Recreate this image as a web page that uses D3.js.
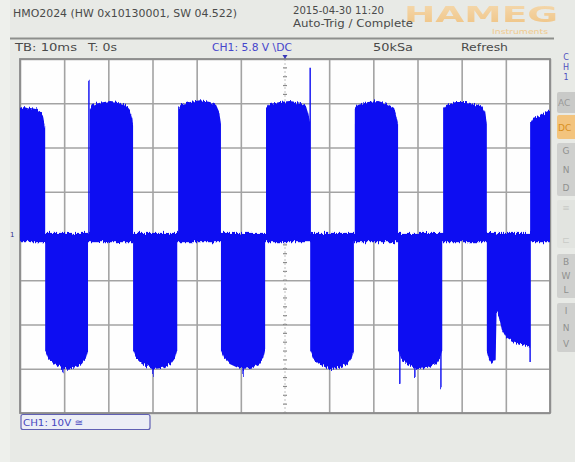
<!DOCTYPE html>
<html><head><meta charset="utf-8">
<script src="https://cdn.jsdelivr.net/npm/d3@7"></script>
<style>
html,body{margin:0;padding:0;background:#e8eae6;}
svg{display:block;font-family:"DejaVu Sans",sans-serif;}
</style></head><body>
<svg id="scope" width="575" height="462"></svg>
<script>
// Acquisition window: 12 divisions x 10 ms, 8 divisions x 10 V
const timeRange = [-60, 60];
const voltRange = [-40, 40];
const timeDivs = d3.range(-60, 61, 10);
const voltDivs = d3.range(-40, 41, 10);

// Envelope of each positive PWM burst: [time ms, volts]
const posBursts = [
  [[-60.0,28.9],[-59.1,29.4],[-57.7,28.9],[-56.4,28.7],[-55.5,28.2],[-54.8,27.1],[-54.3,24.6]],
  [[-44.2,28.7],[-43.7,29.6],[-41.9,30.1],[-39.6,30.5],[-37.8,30.3],[-36.0,29.6],[-35.1,28.5],[-34.6,26.7],[-34.4,24.9]],
  [[-24.2,28.9],[-23.5,29.8],[-21.5,30.3],[-19.2,30.7],[-17.0,30.3],[-15.6,29.6],[-14.9,28.0],[-14.5,25.3]],
  [[-4.3,28.9],[-3.6,29.8],[-1.1,30.3],[1.1,30.5],[3.4,30.1],[4.8,29.4],[5.2,28.0],[5.7,25.8]],
  [[15.8,28.7],[16.5,29.6],[18.8,30.3],[21.1,30.5],[23.3,29.8],[24.7,28.9],[25.1,27.6],[25.6,25.1]],
  [[35.8,28.7],[36.5,29.6],[38.7,30.3],[41.0,30.3],[43.2,29.8],[44.6,29.2],[45.3,28.0],[45.7,25.3]],
  [[55.5,25.5],[56.2,26.7],[57.7,27.1],[59.1,28.0],[60.0,28.5]]
];

// Envelope of each negative PWM burst: [time ms, volts]
const negBursts = [
  [[-54.3,-25.8],[-53.6,-27.6],[-52.3,-28.9],[-50.0,-30.1],[-47.8,-29.8],[-46.0,-28.9],[-45.1,-27.6],[-44.6,-25.8]],
  [[-34.4,-25.8],[-33.7,-27.6],[-32.4,-28.9],[-30.0,-30.1],[-27.6,-29.8],[-25.8,-28.9],[-24.9,-27.6],[-24.4,-25.8]],
  [[-14.5,-25.8],[-13.8,-27.6],[-12.5,-28.9],[-10.0,-30.1],[-7.6,-29.8],[-5.8,-28.9],[-4.9,-27.6],[-4.5,-25.8]],
  [[5.7,-25.8],[6.4,-27.6],[7.7,-28.9],[10.0,-30.1],[12.4,-29.8],[14.2,-28.9],[15.1,-27.6],[15.6,-25.8]],
  [[25.6,-25.8],[26.3,-27.6],[27.6,-28.9],[30.0,-30.1],[32.4,-29.8],[34.2,-28.9],[35.1,-27.6],[35.6,-25.8]],
  [[45.7,-26.2],[46.2,-28.0],[46.8,-28.9],[47.5,-28.0],[47.7,-28.4],[47.9,-17.2],[48.4,-18.1],[49.1,-21.2],[50.0,-22.8],[51.4,-23.7],[53.2,-24.4],[54.8,-24.9],[55.5,-25.3]]
];

// Residual noise band around 0 V between bursts
const baselineBand = [-1.4, 0.7];

// Isolated switching spikes: [time ms, peak volts]
const spikes = [
  [-44.4, 35.3], [5.7, 38.0],
  [-50.3, -31.0], [-29.9, -31.4], [-9.5, -31.4],
  [26.0, -33.4], [29.4, -32.1], [35.3, -34.4], [55.5, -28.5]
];

// Header and status texts
const headerInfo = "HMO2024 (HW 0x10130001, SW 04.522)";
const stampDate = "2015-04-30 11:20";
const stampTrig = "Auto-Trig / Complete";
const timebase = "TB: 10ms";
const trigTime = "T: 0s";
const chSetting = "CH1: 5.8 V \\DC";
const sampleRate = "50kSa";
const acqMode = "Refresh";
const chScale = "CH1: 10V \u2245";
const sideButtons = [
  {label: ["AC"], y0: 92, y1: 113, fill: "#c9cac8", color: "#9a9a9a"},
  {label: ["DC"], y0: 115, y1: 139, fill: "#f3c47e", color: "#d98f1d"},
  {label: ["G","N","D"], y0: 143, y1: 196, fill: "#cfd0ce", color: "#8f908e"},
  {label: ["\u2261","\u228f"], y0: 200, y1: 248, fill: "#e2e4e0", color: "#c9cbc7"},
  {label: ["B","W","L"], y0: 254, y1: 298, fill: "#cfd0ce", color: "#8f908e"},
  {label: ["I","N","V"], y0: 303, y1: 352, fill: "#cfd0ce", color: "#8f908e"}
];

const svg = d3.select("#scope");
const W = 575, H = 462;
const plot = {left: 20, right: 550, top: 59, bottom: 413};

const x = d3.scaleLinear().domain(timeRange).range([plot.left, plot.right]);
const y = d3.scaleLinear().domain(voltRange).range([plot.bottom, plot.top]);

// Background panels
svg.append("rect").attr("width", W).attr("height", H).attr("fill", "#e8eae6");
svg.append("rect").attr("x", 0).attr("y", 0).attr("width", 10).attr("height", H).attr("fill", "#eef0ec");

// Logo
const defs = svg.append("defs");
const lg = defs.append("linearGradient").attr("id", "logoGrad").attr("x1", 0).attr("y1", 0).attr("x2", 0).attr("y2", 1);
lg.append("stop").attr("offset", "0%").attr("stop-color", "#f7d7a6");
lg.append("stop").attr("offset", "100%").attr("stop-color", "#f1bd72");
svg.append("text").attr("x", 404).attr("y", 22)
  .attr("font-size", 22).attr("font-weight", "bold")
  .attr("textLength", 154).attr("lengthAdjust", "spacingAndGlyphs")
  .attr("fill", "url(#logoGrad)").attr("opacity", 0.85).text("HAMEG");
svg.append("text").attr("x", 492).attr("y", 34)
  .attr("font-size", 7).attr("textLength", 56).attr("lengthAdjust", "spacingAndGlyphs")
  .attr("fill", "#f0c98c").text("Instruments");

// Header texts
const hdr = svg.append("g").attr("font-size", 10).attr("fill", "#4a4a4a");
hdr.append("text").attr("x", 13).attr("y", 17).attr("textLength", 224).attr("lengthAdjust", "spacingAndGlyphs").text(headerInfo);
hdr.append("text").attr("x", 293).attr("y", 14).attr("textLength", 91).attr("lengthAdjust", "spacingAndGlyphs").text(stampDate);
hdr.append("text").attr("x", 293).attr("y", 27).attr("textLength", 120).attr("lengthAdjust", "spacingAndGlyphs").text(stampTrig);

// Separator under header
svg.append("line").attr("x1", 10).attr("x2", 554).attr("y1", 38.5).attr("y2", 38.5)
  .attr("stroke", "#8d8f8c").attr("stroke-width", 2);

// Status row
const st = svg.append("g").attr("font-size", 10).attr("fill", "#4a4a4a");
st.append("text").attr("x", 15).attr("y", 51).attr("textLength", 62).attr("lengthAdjust", "spacingAndGlyphs").text(timebase);
st.append("text").attr("x", 88).attr("y", 51).attr("textLength", 29).attr("lengthAdjust", "spacingAndGlyphs").text(trigTime);
st.append("text").attr("x", 212).attr("y", 51).attr("textLength", 80).attr("lengthAdjust", "spacingAndGlyphs").attr("fill", "#4646cc").text(chSetting);
st.append("text").attr("x", 373).attr("y", 51).attr("textLength", 40).attr("lengthAdjust", "spacingAndGlyphs").text(sampleRate);
st.append("text").attr("x", 461).attr("y", 51).attr("textLength", 47).attr("lengthAdjust", "spacingAndGlyphs").text(acqMode);

// Plot area
svg.append("rect").attr("x", plot.left).attr("y", plot.top)
  .attr("width", plot.right - plot.left).attr("height", plot.bottom - plot.top)
  .attr("fill", "#fefefe");

// Division grid through the axis generators
const gridX = svg.append("g").attr("transform", `translate(0,${plot.bottom})`)
  .call(d3.axisBottom(x).tickValues(timeDivs.filter(d => d !== 0)).tickSize(-(plot.bottom - plot.top)).tickFormat(""));
const gridY = svg.append("g").attr("transform", `translate(${plot.left},0)`)
  .call(d3.axisLeft(y).tickValues(voltDivs.filter(d => d !== 0)).tickSize(-(plot.right - plot.left)).tickFormat(""));
[gridX, gridY].forEach(g => {
  g.select(".domain").remove();
  g.selectAll("line").attr("stroke", "#a3a3a3").attr("stroke-width", 1.6);
});

// Center cross with sub-division marks
const cross = svg.append("g").attr("stroke", "#8a8a8a").attr("stroke-width", 1.2);
cross.selectAll(".vt").data(d3.range(voltRange[0], voltRange[1] + 0.01, 2)).join("line")
  .attr("x1", x(0) - 2).attr("x2", x(0) + 2).attr("y1", d => y(d)).attr("y2", d => y(d));
cross.selectAll(".ht").data(d3.range(timeRange[0], timeRange[1] + 0.01, 2)).join("line")
  .attr("y1", y(0) - 2).attr("y2", y(0) + 2).attr("x1", d => x(d)).attr("x2", d => x(d));
cross.append("line").attr("x1", x(0)).attr("x2", x(0)).attr("y1", plot.top).attr("y2", plot.bottom)
  .attr("stroke", "#b0b0b0").attr("stroke-width", 0.8).attr("stroke-dasharray", "2,2");
cross.append("line").attr("y1", y(0)).attr("y2", y(0)).attr("x1", plot.left).attr("x2", plot.right)
  .attr("stroke", "#b0b0b0").attr("stroke-width", 0.8).attr("stroke-dasharray", "2,2");

// Frame
svg.append("rect").attr("x", plot.left).attr("y", plot.top)
  .attr("width", plot.right - plot.left).attr("height", plot.bottom - plot.top)
  .attr("fill", "none").attr("stroke", "#8c8c8c").attr("stroke-width", 1.8);

// Ragged edge filter for the noisy trace
const flt = defs.append("filter").attr("id", "ragged")
  .attr("x", "-2%").attr("y", "-5%").attr("width", "104%").attr("height", "110%");
flt.append("feTurbulence").attr("type", "fractalNoise").attr("baseFrequency", "0.9 0.04")
  .attr("numOctaves", 2).attr("seed", 7).attr("result", "noise");
flt.append("feColorMatrix").attr("in", "noise").attr("type", "matrix")
  .attr("values", "0 0 0 0 0.5  0 1 0 0 0  0 0 1 0 0  0 0 0 0 1").attr("result", "disp");
flt.append("feDisplacementMap").attr("in", "SourceGraphic").attr("in2", "disp")
  .attr("scale", 7).attr("xChannelSelector", "R").attr("yChannelSelector", "G");

const traceColor = "#0b0bf2";
const trace = svg.append("g").attr("filter", "url(#ragged)");

const burstArea = d3.area().x(d => x(d[0])).y0(y(0)).y1(d => y(d[1]));

trace.append("rect")
  .attr("x", x(timeRange[0])).attr("width", x(timeRange[1]) - x(timeRange[0]))
  .attr("y", y(baselineBand[1])).attr("height", y(baselineBand[0]) - y(baselineBand[1]))
  .attr("fill", traceColor);
trace.selectAll(".pos").data(posBursts).join("path").attr("d", burstArea).attr("fill", traceColor);
trace.selectAll(".neg").data(negBursts).join("path").attr("d", burstArea).attr("fill", traceColor);
trace.selectAll(".spk").data(spikes).join("line")
  .attr("x1", d => x(d[0])).attr("x2", d => x(d[0]))
  .attr("y1", y(0)).attr("y2", d => y(d[1]))
  .attr("stroke", traceColor).attr("stroke-width", 1.4);

// Channel ground marker and trigger position marker
svg.append("text").attr("x", 10).attr("y", 237).attr("font-size", 7).attr("fill", "#30308a").text("1");
svg.append("path").attr("d", `M${x(0) - 2.5},${plot.top - 4} h5 l-2.5,4 z`).attr("fill", "#3838b8");

// Side menu
const side = svg.append("g");
side.selectAll(".ch").data(["C", "H", "1"]).join("text")
  .attr("x", 566).attr("y", (d, i) => 60 + i * 10).attr("text-anchor", "middle")
  .attr("font-size", 8).attr("fill", "#5050c0").text(d => d);
sideButtons.forEach(b => {
  side.append("rect").attr("x", 557).attr("y", b.y0).attr("width", 20).attr("height", b.y1 - b.y0)
    .attr("rx", 2).attr("fill", b.fill);
  const n = b.label.length;
  const step = n === 1 ? 0 : (b.y1 - b.y0 - 16) / (n - 1);
  b.label.forEach((t, i) => {
    side.append("text").attr("x", n === 1 ? 558 : 566)
      .attr("y", (n === 1 ? (b.y0 + b.y1) / 2 + 3.5 : b.y0 + 11 + i * step))
      .attr("text-anchor", n === 1 ? "start" : "middle")
      .attr("font-size", 9).attr("fill", b.color).text(t);
  });
});

// Channel scale box
svg.append("rect").attr("x", 21).attr("y", 414.5).attr("width", 129).attr("height", 15)
  .attr("rx", 2).attr("fill", "#eceef6").attr("stroke", "#6060b4").attr("stroke-width", 1.2);
svg.append("text").attr("x", 23).attr("y", 426).attr("font-size", 9.5).attr("fill", "#4646c0")
  .attr("textLength", 60).attr("lengthAdjust", "spacingAndGlyphs").text(chScale);
</script>
</body></html>
